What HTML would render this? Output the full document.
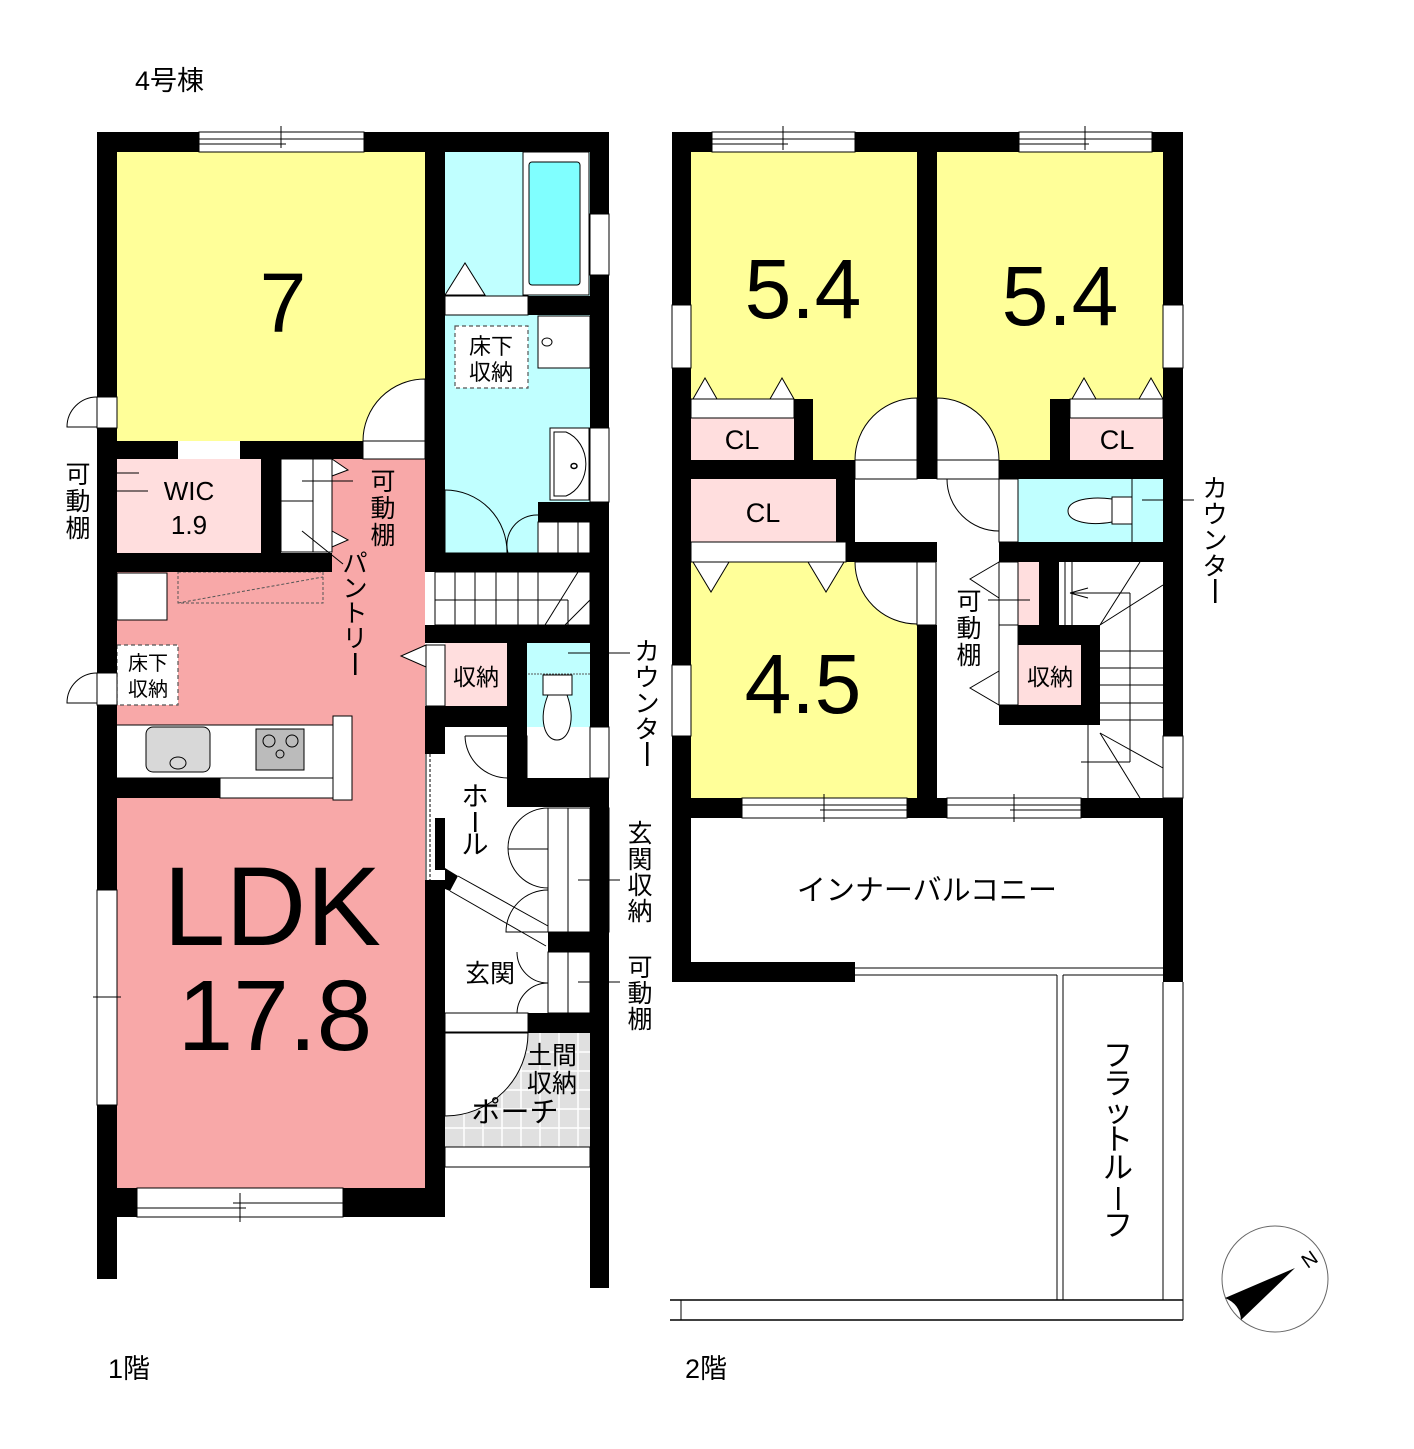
<!DOCTYPE html>
<html><head><meta charset="utf-8"><style>
html,body{margin:0;padding:0;background:#fff;}
svg{display:block;}
text{font-family:"Liberation Sans","Noto Sans CJK JP",sans-serif;fill:#000;}
</style></head><body>
<svg width="1414" height="1449" viewBox="0 0 1414 1449" xmlns="http://www.w3.org/2000/svg">
<rect width="1414" height="1449" fill="#fff"/>

<!-- ================= 1F ================= -->
<rect x="117" y="152" width="308" height="289" fill="#ffff99"/>
<rect x="445" y="152" width="145" height="401" fill="#c0ffff"/>
<rect x="117" y="459" width="144" height="94" fill="#ffdede"/>
<rect x="332" y="459" width="93" height="113" fill="#f8a8a8"/>
<rect x="117" y="572" width="308" height="616" fill="#f8a8a8"/>
<rect x="445" y="643" width="62" height="63" fill="#ffdede"/>
<rect x="527" y="643" width="63" height="142" fill="#c0ffff"/>
<rect x="445" y="1033" width="145" height="114" fill="#e0e0e0"/>
<g stroke="#fff" stroke-width="1.5">
<line x1="445" y1="1052" x2="590" y2="1052"/><line x1="445" y1="1071" x2="590" y2="1071"/><line x1="445" y1="1090" x2="590" y2="1090"/><line x1="445" y1="1109" x2="590" y2="1109"/><line x1="445" y1="1128" x2="590" y2="1128"/>
<line x1="464" y1="1033" x2="464" y2="1147"/><line x1="483" y1="1033" x2="483" y2="1147"/><line x1="502" y1="1033" x2="502" y2="1147"/><line x1="521" y1="1033" x2="521" y2="1147"/><line x1="540" y1="1033" x2="540" y2="1147"/><line x1="559" y1="1033" x2="559" y2="1147"/><line x1="578" y1="1033" x2="578" y2="1147"/>
</g>
<path d="M445,1033 L528,1033 A83,83 0 0 1 445,1116 Z" fill="#fff" stroke="#000" stroke-width="1"/>

<rect x="523" y="152" width="66" height="143" fill="#fff" stroke="#000" stroke-width="1"/>
<rect x="529" y="162" width="51" height="123" rx="3" fill="#80ffff" stroke="#000" stroke-width="1"/>
<polygon points="445,295 465,263 485,295" fill="#fff" stroke="#000" stroke-width="1"/>
<rect x="445" y="296" width="83" height="19" fill="#fff" stroke="#000" stroke-width="1"/>
<rect x="528" y="296" width="62" height="19" fill="#000"/>
<rect x="538" y="316" width="52" height="52" fill="#fff" stroke="#000" stroke-width="1"/>
<ellipse cx="547" cy="342" rx="5" ry="4" fill="#fff" stroke="#000"/>
<rect x="455" y="326" width="73" height="62" fill="#fff" stroke="#555" stroke-width="1.2" stroke-dasharray="4,3"/>
<text x="491" y="354" font-size="22" text-anchor="middle">床下</text>
<text x="491" y="380" font-size="22" text-anchor="middle">収納</text>
<rect x="550" y="428" width="39" height="72" fill="#fff" stroke="#000"/>
<path d="M554,432 L566,432 A30,34 0 0 1 566,496 L554,496 Z" fill="#fff" stroke="#000"/>
<ellipse cx="574" cy="466" rx="3" ry="2.5" fill="#fff" stroke="#000" stroke-width="1.5"/>
<rect x="538" y="502" width="52" height="20" fill="#000"/>
<rect x="538" y="522" width="52" height="31" fill="#fff" stroke="#000"/>
<line x1="558" y1="522" x2="558" y2="553" stroke="#000"/><line x1="578" y1="522" x2="578" y2="553" stroke="#000"/>
<rect x="426" y="490" width="19" height="63" fill="#fff" stroke="#000"/>
<path d="M445,490 A62,62 0 0 1 507,553" fill="none" stroke="#000"/>
<path d="M538,515 A30,30 0 0 0 508,553" fill="none" stroke="#000"/>
<line x1="445" y1="553" x2="538" y2="553" stroke="#000"/>

<rect x="435" y="572" width="155" height="53" fill="#fff" stroke="#000"/>
<g stroke="#000" stroke-width="1">
<line x1="455" y1="572" x2="455" y2="625"/><line x1="475" y1="572" x2="475" y2="625"/><line x1="496" y1="572" x2="496" y2="625"/><line x1="518" y1="572" x2="518" y2="625"/><line x1="538" y1="572" x2="538" y2="625"/>
<line x1="435" y1="600" x2="568" y2="600"/>
<line x1="545" y1="625" x2="578" y2="572"/><line x1="565" y1="625" x2="590" y2="600"/><line x1="568" y1="600" x2="568" y2="625"/>
</g>

<rect x="117" y="573" width="50" height="47" fill="#fff" stroke="#000"/>
<rect x="178" y="572" width="145" height="31" fill="none" stroke="#555" stroke-dasharray="3,2"/>
<line x1="178" y1="603" x2="323" y2="577" stroke="#555" stroke-dasharray="3,2"/>
<rect x="117" y="645" width="61" height="60" fill="#fff" stroke="#555" stroke-width="1.2" stroke-dasharray="4,3"/>
<text x="148" y="670" font-size="20" text-anchor="middle">床下</text>
<text x="148" y="696" font-size="20" text-anchor="middle">収納</text>
<rect x="112" y="725" width="221" height="53" fill="#fff" stroke="#000"/>
<rect x="146" y="727" width="64" height="45" rx="7" fill="#d8d8d8" stroke="#000"/>
<ellipse cx="178" cy="763" rx="8" ry="6" fill="#d8d8d8" stroke="#000"/>
<rect x="256" y="729" width="48" height="41" fill="#bbb" stroke="#000"/>
<circle cx="269" cy="741" r="6" fill="none" stroke="#000"/><circle cx="292" cy="741" r="6" fill="none" stroke="#000"/><circle cx="280" cy="754" r="4" fill="none" stroke="#000"/>
<rect x="333" y="716" width="19" height="84" fill="#fff" stroke="#000"/>
<rect x="97" y="778" width="123" height="20" fill="#000"/>
<rect x="220" y="778" width="113" height="20" fill="#fff" stroke="#000"/>
<polygon points="426,645 401,656 426,667" fill="#fff" stroke="#000"/>
<rect x="426" y="645" width="19" height="61" fill="#fff" stroke="#000"/>

<rect x="281" y="459" width="51" height="93" fill="#fff" stroke="#000"/>
<line x1="313" y1="459" x2="313" y2="552" stroke="#000"/><line x1="281" y1="501" x2="313" y2="501" stroke="#000"/>
<polygon points="332,459 348,470 332,476" fill="#fff" stroke="#000"/>
<polygon points="332,531 348,540 332,547" fill="#fff" stroke="#000"/>
<line x1="302" y1="481" x2="353" y2="481" stroke="#000"/>
<line x1="302" y1="531" x2="343" y2="564" stroke="#000"/>
<line x1="117" y1="473" x2="139" y2="473" stroke="#000"/><line x1="117" y1="491" x2="148" y2="491" stroke="#000"/>

<rect x="363" y="441" width="62" height="18" fill="#fff" stroke="#000"/>
<path d="M363,441 A62,62 0 0 1 425,379 L425,441 Z" fill="#fff" stroke="#000"/>
<rect x="178" y="441" width="62" height="18" fill="#fff"/>

<rect x="445" y="727" width="145" height="300" fill="#fff"/>
<rect x="507" y="736" width="20" height="42" fill="#fff" stroke="#000"/>
<path d="M465,736 L508,736 L508,778 A43,43 0 0 1 465,736" fill="#fff" stroke="#000"/>
<line x1="426" y1="754" x2="426" y2="880" stroke="#000"/>
<line x1="430" y1="754" x2="430" y2="880" stroke="#000" stroke-dasharray="3,2"/>

<rect x="548" y="808" width="20" height="124" fill="#fff" stroke="#000"/>
<rect x="568" y="808" width="22" height="124" fill="#fff" stroke="#000"/>
<rect x="590" y="808" width="19" height="124" fill="#fff" stroke="#000"/>
<path d="M548,808 A40,40 0 0 0 548,888" fill="none" stroke="#000"/>
<line x1="508" y1="849" x2="548" y2="849" stroke="#000"/>
<path d="M548,890 A42,42 0 0 0 506,932 L548,932" fill="none" stroke="#000"/>
<line x1="578" y1="880" x2="620" y2="880" stroke="#000"/>
<rect x="548" y="952" width="20" height="61" fill="#fff" stroke="#000"/>
<rect x="568" y="952" width="22" height="61" fill="#fff" stroke="#000"/>
<path d="M517,952 A31,31 0 0 0 548,983 A31,31 0 0 0 517,1013" fill="none" stroke="#000"/>
<line x1="578" y1="982" x2="620" y2="982" stroke="#000"/>
<polygon points="445,868 458,876 450,891 445,889" fill="#000"/>
<line x1="458" y1="876" x2="548" y2="926" stroke="#000"/>
<line x1="450" y1="891" x2="546" y2="946" stroke="#000"/>
<rect x="445" y="1013" width="83" height="19" fill="#fff" stroke="#000"/>
<rect x="445" y="1147" width="145" height="20" fill="#fff" stroke="#000"/>

<g fill="#000">
<rect x="97" y="132" width="20" height="1147"/>
<rect x="97" y="132" width="512" height="20"/>
<rect x="590" y="132" width="19" height="1156"/>
<rect x="425" y="132" width="20" height="421"/>
<rect x="117" y="441" width="61" height="18"/>
<rect x="240" y="441" width="123" height="18"/>
<rect x="261" y="459" width="20" height="113"/>
<rect x="117" y="553" width="215" height="19"/>
<rect x="425" y="553" width="184" height="19"/>
<rect x="425" y="625" width="184" height="18"/>
<rect x="507" y="643" width="20" height="142"/>
<rect x="425" y="706" width="102" height="21"/>
<rect x="425" y="706" width="20" height="48"/>
<rect x="507" y="778" width="102" height="29"/>
<rect x="435" y="818" width="10" height="52"/>
<rect x="425" y="880" width="20" height="337"/>
<rect x="548" y="932" width="61" height="20"/>
<rect x="528" y="1013" width="81" height="20"/>
<rect x="97" y="1188" width="40" height="29"/>
<rect x="343" y="1188" width="102" height="29"/>
</g>
<rect x="199" y="132" width="165" height="20" fill="#fff" stroke="#000"/>
<line x1="199" y1="139" x2="364" y2="139" stroke="#000"/><line x1="199" y1="144" x2="286" y2="144" stroke="#000"/><line x1="281" y1="126" x2="281" y2="148" stroke="#000"/>
<rect x="590" y="214" width="19" height="61" fill="#fff" stroke="#000"/>
<rect x="590" y="428" width="19" height="74" fill="#fff" stroke="#000"/>
<rect x="590" y="727" width="19" height="51" fill="#fff" stroke="#000"/>
<rect x="97" y="397" width="20" height="31" fill="#fff" stroke="#000"/>
<path d="M97,397 A30,30 0 0 0 67,427 L97,427" fill="none" stroke="#000"/>
<rect x="97" y="673" width="20" height="32" fill="#fff" stroke="#000"/>
<path d="M97,673 A30,30 0 0 0 67,703 L97,703" fill="none" stroke="#000"/>
<rect x="97" y="890" width="20" height="215" fill="#fff" stroke="#000"/>
<line x1="93" y1="997" x2="121" y2="997" stroke="#000"/>
<rect x="137" y="1188" width="206" height="29" fill="#fff" stroke="#000"/>
<line x1="137" y1="1208" x2="246" y2="1208" stroke="#000"/><line x1="233" y1="1203" x2="343" y2="1203" stroke="#000"/><line x1="240" y1="1193" x2="240" y2="1222" stroke="#000"/>
<line x1="568" y1="653" x2="630" y2="653" stroke="#000"/>
<line x1="528" y1="674" x2="590" y2="674" stroke="#555" stroke-dasharray="2,1"/>
<rect x="543" y="675" width="29" height="20" fill="#fff" stroke="#000"/>
<path d="M548,695 C538,720 545,740 557,740 C569,740 576,720 567,695 Z" fill="#fff" stroke="#000"/>

<text x="135" y="90" font-size="27">4号棟</text>
<text x="108" y="1378" font-size="27">1階</text>
<text x="283" y="332" font-size="84" text-anchor="middle">7</text>
<text x="189" y="500" font-size="26" text-anchor="middle">WIC</text>
<text x="189" y="534" font-size="26" text-anchor="middle">1.9</text>
<text x="272" y="945" font-size="112" text-anchor="middle">LDK</text>
<text x="275" y="1050" font-size="100" text-anchor="middle">17.8</text>
<text x="476" y="685" font-size="23" text-anchor="middle">収納</text>
<text x="490" y="982" font-size="25" text-anchor="middle">玄関</text>
<text x="552" y="1064" font-size="25" text-anchor="middle">土間</text>
<text x="552" y="1092" font-size="25" text-anchor="middle">収納</text>
<text x="515" y="1122" font-size="29" text-anchor="middle">ポーチ</text>
<g font-size="25" text-anchor="middle">
<text x="78" y="483">可</text><text x="78" y="510">動</text><text x="78" y="537">棚</text>
<text x="383" y="490">可</text><text x="383" y="517">動</text><text x="383" y="544">棚</text>
<text x="355" y="572">パ</text><text x="355" y="597">ン</text><text x="355" y="622">ト</text><text x="355" y="647">リ</text>
<text x="475" y="806" font-size="27">ホ</text><text x="475" y="854" font-size="27">ル</text>
<text x="647" y="660">カ</text><text x="647" y="686">ウ</text><text x="647" y="712">ン</text><text x="647" y="738">タ</text>
<text x="640" y="842">玄</text><text x="640" y="868">関</text><text x="640" y="894">収</text><text x="640" y="920">納</text>
<text x="640" y="976">可</text><text x="640" y="1002">動</text><text x="640" y="1028">棚</text>
</g>
<rect x="354" y="653" width="2.5" height="22" fill="#000"/>
<rect x="474" y="812" width="2.5" height="20" fill="#000"/>
<rect x="646" y="742" width="2.5" height="24" fill="#000"/>

<!-- ================= 2F ================= -->
<rect x="691" y="152" width="226" height="308" fill="#ffff99"/>
<rect x="937" y="152" width="226" height="308" fill="#ffff99"/>
<rect x="691" y="562" width="226" height="236" fill="#ffff99"/>
<rect x="691" y="418" width="103" height="42" fill="#ffdede"/>
<rect x="1070" y="418" width="93" height="42" fill="#ffdede"/>
<rect x="691" y="479" width="145" height="63" fill="#ffdede"/>
<rect x="1018" y="479" width="145" height="63" fill="#c0ffff"/>
<rect x="1018" y="562" width="21" height="63" fill="#ffdede"/>
<rect x="1018" y="645" width="63" height="60" fill="#ffdede"/>

<rect x="691" y="399" width="103" height="19" fill="#fff" stroke="#000"/>
<rect x="1070" y="399" width="93" height="19" fill="#fff" stroke="#000"/>
<g fill="#fff" stroke="#000">
<polygon points="693,399 705,378 717,399"/><polygon points="770,399 782,378 794,399"/>
<polygon points="1072,399 1084,378 1096,399"/><polygon points="1139,399 1151,378 1163,399"/>
<rect x="691" y="542" width="155" height="20"/>
<polygon points="693,562 711,592 729,562"/><polygon points="808,562 826,592 844,562"/>
</g>
<rect x="855" y="460" width="62" height="19" fill="#fff" stroke="#000"/>
<path d="M855,460 A62,62 0 0 1 917,398 L917,460 Z" fill="#fff" stroke="#000"/>
<rect x="937" y="460" width="62" height="19" fill="#fff" stroke="#000"/>
<path d="M999,460 A62,62 0 0 0 937,398 L937,460 Z" fill="#fff" stroke="#000"/>
<rect x="917" y="562" width="19" height="63" fill="#fff" stroke="#000"/>
<path d="M855,562 A62,62 0 0 0 917,624 L917,562 Z" fill="#fff" stroke="#000"/>
<rect x="999" y="479" width="19" height="63" fill="#fff" stroke="#000"/>
<path d="M947,479 A52,52 0 0 0 999,531" fill="none" stroke="#000"/>
<line x1="1132" y1="479" x2="1132" y2="542" stroke="#000"/>
<rect x="1112" y="497" width="20" height="27" fill="#fff" stroke="#000"/>
<path d="M1112,499 C1090,496 1068,500 1068,511 C1068,522 1090,526 1112,522 Z" fill="#fff" stroke="#000"/>
<line x1="1142" y1="500" x2="1194" y2="500" stroke="#000"/>
<rect x="999" y="562" width="19" height="143" fill="#fff" stroke="#000"/>
<line x1="999" y1="625" x2="1018" y2="625" stroke="#000"/>
<polygon points="999,562 970,579 999,598" fill="#fff" stroke="#000"/>
<polygon points="999,671 970,688 999,705" fill="#fff" stroke="#000"/>
<line x1="988" y1="600" x2="1030" y2="600" stroke="#000"/>
<g stroke="#000" fill="none" stroke-width="1">
<line x1="1065" y1="562" x2="1065" y2="625"/><line x1="1072" y1="562" x2="1072" y2="625"/>
<line x1="1070" y1="593" x2="1130" y2="593"/><line x1="1070" y1="593" x2="1088" y2="588"/><line x1="1070" y1="593" x2="1088" y2="598"/>
<line x1="1130" y1="593" x2="1130" y2="762"/>
<line x1="1100" y1="625" x2="1140" y2="562"/><line x1="1100" y1="625" x2="1163" y2="585"/>
<line x1="1100" y1="651" x2="1163" y2="651"/><line x1="1100" y1="668" x2="1163" y2="668"/><line x1="1100" y1="685" x2="1163" y2="685"/><line x1="1100" y1="703" x2="1163" y2="703"/><line x1="1100" y1="720" x2="1163" y2="720"/>
<line x1="1088" y1="725" x2="1088" y2="798"/><line x1="1081" y1="762" x2="1130" y2="762"/>
<line x1="1100" y1="733" x2="1163" y2="768"/><line x1="1100" y1="733" x2="1140" y2="798"/>
</g>

<g fill="#000">
<rect x="672" y="132" width="19" height="850"/>
<rect x="672" y="132" width="511" height="20"/>
<rect x="1163" y="132" width="20" height="850"/>
<rect x="917" y="132" width="20" height="347"/>
<rect x="794" y="399" width="19" height="61"/>
<rect x="1050" y="399" width="20" height="61"/>
<rect x="672" y="460" width="183" height="19"/>
<rect x="999" y="460" width="184" height="19"/>
<rect x="836" y="479" width="19" height="63"/>
<rect x="846" y="542" width="91" height="20"/>
<rect x="917" y="625" width="20" height="193"/>
<rect x="999" y="542" width="184" height="20"/>
<rect x="1039" y="562" width="20" height="63"/>
<rect x="1018" y="625" width="82" height="20"/>
<rect x="1081" y="625" width="19" height="100"/>
<rect x="999" y="705" width="101" height="20"/>
<rect x="672" y="798" width="511" height="20"/>
<rect x="672" y="962" width="183" height="20"/>
</g>
<g fill="#fff" stroke="#000">
<rect x="712" y="132" width="143" height="20"/><rect x="1019" y="132" width="133" height="20"/>
<rect x="672" y="305" width="19" height="63"/><rect x="1163" y="305" width="20" height="63"/>
<rect x="672" y="665" width="19" height="71"/><rect x="1163" y="736" width="20" height="62"/>
<rect x="742" y="798" width="165" height="20"/><rect x="947" y="798" width="134" height="20"/>
</g>
<g stroke="#000">
<line x1="712" y1="139" x2="855" y2="139"/><line x1="712" y1="144" x2="788" y2="144"/><line x1="783" y1="126" x2="783" y2="150"/>
<line x1="1019" y1="139" x2="1152" y2="139"/><line x1="1019" y1="144" x2="1089" y2="144"/><line x1="1085" y1="126" x2="1085" y2="150"/>
<line x1="742" y1="805" x2="907" y2="805"/><line x1="820" y1="810" x2="907" y2="810"/><line x1="824" y1="794" x2="824" y2="822"/>
<line x1="947" y1="805" x2="1081" y2="805"/><line x1="1010" y1="810" x2="1081" y2="810"/><line x1="1014" y1="794" x2="1014" y2="822"/>
</g>
<g stroke="#000" stroke-width="1" fill="none">
<line x1="855" y1="968" x2="1163" y2="968"/><line x1="855" y1="975" x2="1057" y2="975"/>
<line x1="1057" y1="975" x2="1057" y2="1300"/><line x1="1063" y1="975" x2="1063" y2="1300"/>
<line x1="1063" y1="975" x2="1163" y2="975"/>
<line x1="1163" y1="982" x2="1163" y2="1300"/><line x1="1183" y1="982" x2="1183" y2="1320"/>
<line x1="670" y1="1300" x2="1183" y2="1300" stroke-width="1.5"/>
<line x1="670" y1="1320" x2="1183" y2="1320" stroke-width="1.5"/>
<line x1="681" y1="1300" x2="681" y2="1320"/>
</g>

<text x="685" y="1378" font-size="27">2階</text>
<text x="803" y="318" font-size="84" text-anchor="middle">5.4</text>
<text x="1060" y="325" font-size="84" text-anchor="middle">5.4</text>
<text x="803" y="713" font-size="84" text-anchor="middle">4.5</text>
<text x="742" y="449" font-size="27" text-anchor="middle">CL</text>
<text x="1117" y="449" font-size="27" text-anchor="middle">CL</text>
<text x="763" y="522" font-size="27" text-anchor="middle">CL</text>
<text x="1050" y="685" font-size="23" text-anchor="middle">収納</text>
<text x="927" y="900" font-size="29" text-anchor="middle">インナーバルコニー</text>
<g font-size="25" text-anchor="middle">
<text x="969" y="610">可</text><text x="969" y="637">動</text><text x="969" y="664">棚</text>
<text x="1215" y="497">カ</text><text x="1215" y="523">ウ</text><text x="1215" y="549">ン</text><text x="1215" y="575">タ</text>
</g>
<rect x="1214" y="579" width="2.5" height="24" fill="#000"/>
<g font-size="30" text-anchor="middle">
<text x="1118" y="1066">フ</text><text x="1118" y="1094">ラ</text><text x="1118" y="1122">ッ</text><text x="1118" y="1150">ト</text><text x="1118" y="1178">ル</text><text x="1118" y="1236">フ</text>
</g>
<rect x="1117" y="1187" width="2.5" height="23" fill="#000"/>

<circle cx="1275" cy="1279" r="53" fill="#fff" stroke="#666" stroke-width="1"/>
<path d="M1295,1268 L1225,1298 Q1240,1304 1241,1320 Z" fill="#000"/>
<text x="1310" y="1266" font-size="20" font-family="Liberation Serif" text-anchor="middle" transform="rotate(-35 1310 1260)">N</text>
</svg>
</body></html>
